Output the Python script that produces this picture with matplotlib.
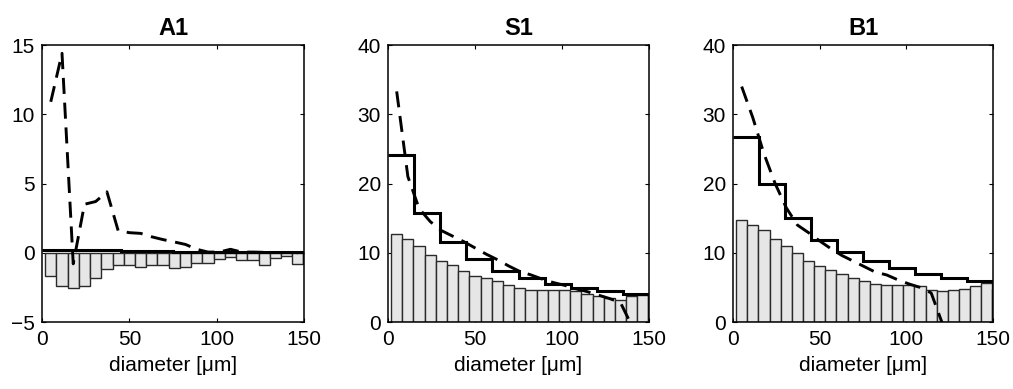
import numpy as np
import matplotlib
matplotlib.use("Agg")
import matplotlib.pyplot as plt

plt.rcParams['font.family'] = ['Liberation Sans', 'DejaVu Sans']

# histogram bins (diameter, um)
bin_width = 6.43
bin_centers = 5.0 + bin_width * np.arange(24)

# coarse bins for the step line
step_edges = np.arange(0, 151, 15)

titles = ["A1", "S1", "B1"]

# bar heights
a1_bars = [-1.70, -2.37, -2.57, -2.37, -1.84, -1.17, -0.86, -0.86, -1.02, -0.90,
           -0.90, -1.10, -1.02, -0.75, -0.75, -0.46, -0.30, -0.54, -0.54, -0.86,
           -0.40, -0.20, -0.78, -0.78]
s1_bars = [12.67, 11.95, 10.94, 9.64, 8.77, 8.19, 7.37, 6.70, 6.36, 5.88,
           5.30, 4.94, 4.68, 4.68, 4.68, 4.58, 4.50, 4.10, 3.76, 3.50,
           3.23, 3.76, 3.86, 3.90]
b1_bars = [14.80, 14.07, 13.35, 12.05, 10.94, 9.98, 8.77, 8.14, 7.47, 6.89,
           6.36, 5.88, 5.55, 5.40, 5.40, 5.40, 5.20, 4.68, 4.44, 4.68,
           4.82, 5.20, 5.69, 4.70]

# solid step line values
a1_steps = [0.23, 0.23, 0.23, 0.13, 0.13, 0.08, 0.05, 0.04, 0.03, 0.03]
s1_steps = [24.1, 15.8, 11.57, 9.16, 7.37, 6.36, 5.54, 4.96, 4.43, 4.0]
b1_steps = [26.65, 20.0, 15.08, 11.9, 10.1, 8.77, 7.8, 6.99, 6.41, 5.88]

# dashed curve values at bin centers
a1_dash = [10.9, 14.4, -0.8, 3.5, 3.7, 4.4, 1.6, 1.45, 1.4, 1.15,
           0.95, 0.78, 0.6, 0.25, 0.05, 0.05, 0.25, 0.05, 0.05, 0.03,
           0.02, 0.02, 0.0]
s1_dash = [33.3, 21.0, 16.4, 14.5, 13.2, 12.4, 11.6, 10.7, 9.8, 9.0,
           8.1, 7.3, 6.8, 6.2, 5.7, 5.3, 4.8, 4.4, 3.9, 3.4,
           2.8, -0.5, -4.0]
b1_dash = [34.0, 29.5, 24.3, 20.0, 16.5, 14.0, 12.9, 11.7, 10.6, 9.6,
           8.8, 8.0, 7.2, 6.8, 6.1, 5.5, 5.0, 4.2, -0.2, -6.0]

bars = [a1_bars, s1_bars, b1_bars]
steps = [a1_steps, s1_steps, b1_steps]
dashes = [a1_dash, s1_dash, b1_dash]
ylims = [(-5, 15), (0, 40), (0, 40)]
yticks = [[-5, 0, 5, 10, 15], [0, 10, 20, 30, 40], [0, 10, 20, 30, 40]]

fig = plt.figure(figsize=(10.13, 3.89), dpi=100)
lefts = [0.0415, 0.383, 0.7236]
widths = [0.2586, 0.2577, 0.2567]

for i in range(3):
    ax = fig.add_axes([lefts[i], 0.1722, widths[i], 0.7121])
    ax.bar(bin_centers, bars[i], width=bin_width, color='#e6e6e6',
           edgecolor='#2a2a2a', linewidth=1.0, zorder=2)
    ax.stairs(steps[i], step_edges, baseline=None, color='black',
              linewidth=2.2, zorder=3)
    d = dashes[i]
    ax.plot(bin_centers[:len(d)], d, color='black', linewidth=2.1,
            linestyle=(0, (5.5, 3)), zorder=4)
    ax.set_xlim(0, 150)
    ax.set_ylim(*ylims[i])
    ax.set_xticks([0, 50, 100, 150])
    ax.set_yticks(yticks[i])
    ax.tick_params(direction='in', top=True, right=True, length=3,
                   width=0.8, labelsize=15)
    ax.tick_params(axis='x', pad=6)
    ax.tick_params(axis='y', pad=5)
    for s in ax.spines.values():
        s.set_linewidth(1.1)
    ax.set_xlabel("diameter [\u03bcm]", fontsize=15, labelpad=5)
    ax.set_title(titles[i], fontsize=17, fontweight='bold', pad=7)

fig.savefig("out.png", dpi=100)
